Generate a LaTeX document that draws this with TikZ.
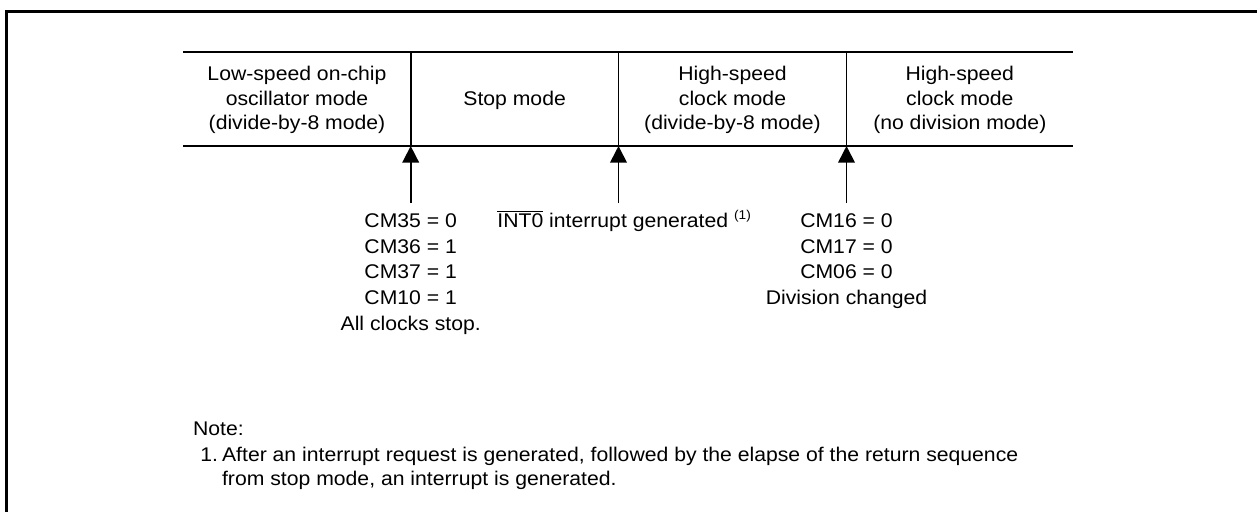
\documentclass[tikz,border=0pt]{standalone}
\usepackage{fontspec}
\setmainfont{Liberation Sans}[FakeStretch=1.07]
\usetikzlibrary{arrows.meta}

\tikzset{
  frameline/.style={line width=1.5pt, line join=miter},
  rule/.style={line width=0.85pt},
  cell/.style={align=center, inner sep=0pt, font=\fontsize{9.9pt}{12.25pt}\selectfont},
  cond/.style={align=center, inner sep=0pt, anchor=north, font=\fontsize{9.9pt}{12.85pt}\selectfont},
  txt/.style={inner sep=0pt, font=\fontsize{9.9pt}{12pt}\selectfont},
  arr/.style={line width=0.85pt, -{Triangle[width=8.3pt,length=8.3pt]}},
}

\begin{document}
\begin{tikzpicture}[x=0.5pt, y=-0.5pt]
  \useasboundingbox (0,0) rectangle (1257,511);

  % outer frame (left and top edges)
  \draw[frameline] (6.6,520) -- (6.6,11.4) -- (1265,11.4);

  % mode table: horizontal rules and column separators
  \draw[rule] (183,51.7) -- (1073,51.7);
  \draw[rule] (183,146) -- (1073,146);
  \foreach \x in {410.7,618.5,846.5}
    \draw[rule] (\x,51.7) -- (\x,146);

  % mode names
  \node[cell] (lowosc) at (297,100) {Low-speed on-chip\\oscillator mode\\(divide-by-8 mode)};
  \node[cell] (stop)   at (514.6,100) {Stop mode};
  \node[cell] (hsdiv)  at (732.5,100) {High-speed\\clock mode\\(divide-by-8 mode)};
  \node[cell] (hsnodiv) at (959.8,100) {High-speed\\clock mode\\(no division mode)};

  % transition arrows pointing up at the table
  \coordinate (a1) at (410.7,146);  \coordinate (s1) at (410.7,203);
  \coordinate (a2) at (618.5,146);  \coordinate (s2) at (618.5,203);
  \coordinate (a3) at (846.5,146);  \coordinate (s3) at (846.5,203);
  \draw[arr] (s1) -- (a1);
  \draw[arr] (s2) -- (a2);
  \draw[arr] (s3) -- (a3);

  % transition conditions
  \node[cond] (c1) at (410.7,213.3) {CM35 = 0\\CM36 = 1\\CM37 = 1\\CM10 = 1\\All clocks stop.};
  \node[txt, anchor=base west] (c2) at (497,227.7)
    {$\overline{\mbox{INT0}}$ interrupt generated \raisebox{4.3pt}{\fontsize{6.4pt}{6.4pt}\selectfont(1)}};
  \node[cond] (c3) at (846.5,213.3) {CM16 = 0\\CM17 = 0\\CM06 = 0\\Division changed};

  % footnote
  \node[txt, anchor=base west] (note) at (192.7,435) {Note:};
  \node[txt, anchor=base west] (n1) at (200,461.5) {1.};
  \node[txt, anchor=north west, align=left] (n1text) at (221.7,447)
    {After an interrupt request is generated, followed by the elapse of the return sequence\\
     from stop mode, an interrupt is generated.};
\end{tikzpicture}
\end{document}
